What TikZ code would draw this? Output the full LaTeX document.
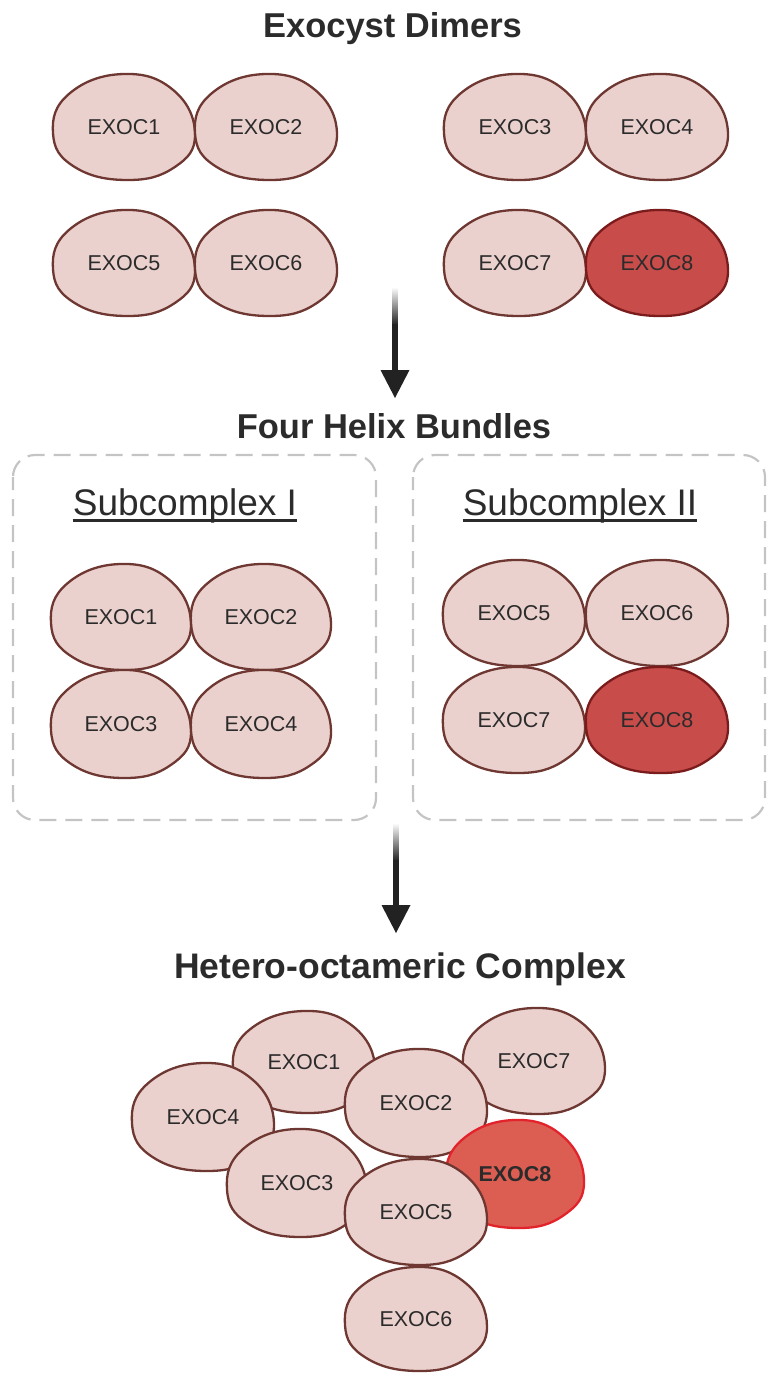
\documentclass[tikz,border=0pt]{standalone}
\usepackage{fontspec}
\setmainfont{Liberation Sans}
\usetikzlibrary{calc}

\definecolor{inkc}{HTML}{2B2B2B}
\definecolor{pinkfill}{HTML}{EBD1CD}
\definecolor{pinkline}{HTML}{6E3732}
\definecolor{redfill}{HTML}{C84C4A}
\definecolor{redline}{HTML}{7B1C1C}
\definecolor{hotfill}{HTML}{DC5E52}
\definecolor{hotline}{HTML}{E3232B}
\definecolor{arrowc}{HTML}{222222}
\definecolor{dashc}{HTML}{C4C4C4}

% one protein subunit: outline blob plus a named label node
% #1 name, #2 x, #3 y, #4 half width, #5 half height, #6 outline style, #7 label
\newcommand\subunit[7]{%
  \draw[#6, shift={(#2,#3)}, xscale=#4, yscale=#5]
    plot[smooth cycle, tension=0.75] coordinates
    {(-0.01,-1) (0.70,-0.69) (1,0.14) (0.71,0.76) (0.04,1)
     (-0.70,0.75) (-1,0.12) (-0.77,-0.63)};
  \node[lbl] (#1) at (#2,#3) {#7};}

\tikzset{
  lbl/.style={inner sep=0pt, text=inkc, font=\fontsize{21.5}{25}\selectfont},
  plain/.style={fill=pinkfill, draw=pinkline, line width=2.3pt},
  dark/.style={fill=redfill, draw=redline, line width=2.3pt},
  hot/.style={fill=hotfill, draw=hotline, line width=2.3pt},
  title/.style={inner sep=0pt, anchor=base, text=inkc,
    font=\fontsize{34.5}{40}\selectfont\bfseries},
  sub/.style={inner sep=0pt, anchor=base, text=inkc,
    font=\fontsize{37}{42}\selectfont},
  dashbox/.style={draw=dashc, line width=2.2pt, rounded corners=22pt,
    dash pattern=on 17pt off 9pt, dash phase=4pt},
}

\begin{document}
\begin{tikzpicture}[x=1pt, y=-1pt]
\useasboundingbox (0,0) rectangle (771,1374);

% ---------------- Exocyst dimers ----------------
\node[title] (t1) at (392.5,37) {Exocyst Dimers};

\subunit{d1}{124}{127}{71}{53}{plain}{EXOC1}
\subunit{d2}{266}{127}{71}{53}{plain}{EXOC2}
\subunit{d3}{515}{127}{71}{53}{plain}{EXOC3}
\subunit{d4}{657}{127}{71}{53}{plain}{EXOC4}
\subunit{d5}{124}{263}{71}{53}{plain}{EXOC5}
\subunit{d6}{266}{263}{71}{53}{plain}{EXOC6}
\subunit{d7}{515}{263}{71}{53}{plain}{EXOC7}
\subunit{d8}{657}{263}{71}{53}{dark}{EXOC8}

% arrow with a faded tail
\coordinate (a1s) at (395,287);
\coordinate (a1e) at (395,398);
\shade[top color=white, bottom color=arrowc]
  ($(a1s)+(-2.8,0)$) rectangle ($(a1s)+(2.8,38)$);
\fill[arrowc] ($(a1s)+(-2.8,37)$) rectangle ($(a1e)+(2.8,-27)$);
\fill[arrowc] (a1e) -- ++(-14.5,-28) -- ++(29,0) -- cycle;

% ---------------- Four helix bundles ----------------
\node[title] (t2) at (394,438) {Four Helix Bundles};

\draw[dashbox] (13,455) rectangle (376,820);
\draw[dashbox] (413,455) rectangle (765,820);

\node[sub] (s1) at (185,515) {Subcomplex I};
\draw[inkc, line width=2.3pt] ($(s1.base west)+(0,5.5)$) -- ($(s1.base east)+(0,5.5)$);
\node[sub] (s2) at (580,515) {Subcomplex II};
\draw[inkc, line width=2.3pt] ($(s2.base west)+(0,5.5)$) -- ($(s2.base east)+(0,5.5)$);

\subunit{b1}{121}{617}{70}{53}{plain}{EXOC1}
\subunit{b2}{261}{617}{70}{53}{plain}{EXOC2}
\subunit{b3}{121}{724}{70}{54}{plain}{EXOC3}
\subunit{b4}{261}{724}{70}{54}{plain}{EXOC4}
\subunit{b5}{514}{613}{71}{53}{plain}{EXOC5}
\subunit{b6}{657}{613}{71}{53}{plain}{EXOC6}
\subunit{b7}{514}{720}{71}{53}{plain}{EXOC7}
\subunit{b8}{657}{720}{71}{53}{dark}{EXOC8}

% second arrow
\coordinate (a2s) at (396,823);
\coordinate (a2e) at (396,933);
\shade[top color=white, bottom color=arrowc]
  ($(a2s)+(-2.8,0)$) rectangle ($(a2s)+(2.8,38)$);
\fill[arrowc] ($(a2s)+(-2.8,37)$) rectangle ($(a2e)+(2.8,-27)$);
\fill[arrowc] (a2e) -- ++(-14.5,-28) -- ++(29,0) -- cycle;

% ---------------- Hetero-octameric complex ----------------
\node[title, font=\fontsize{35.5}{40}\selectfont\bfseries] (t3) at (400,978) {Hetero-octameric Complex};

\subunit{c7}{534}{1061}{71}{53}{plain}{EXOC7}
\subunit{c1}{304}{1062}{71}{51}{plain}{EXOC1}
\subunit{c4}{203}{1117}{71}{54}{plain}{EXOC4}
\subunit{c2}{416}{1103}{71}{54}{plain}{EXOC2}
\subunit{c8}{515}{1174}{69}{54}{hot}{\textbf{EXOC8}}
\subunit{c3}{297}{1183}{70}{54}{plain}{EXOC3}
\subunit{c5}{416}{1212}{71}{53}{plain}{EXOC5}
\subunit{c6}{416}{1319}{71}{52}{plain}{EXOC6}
\end{tikzpicture}
\end{document}
